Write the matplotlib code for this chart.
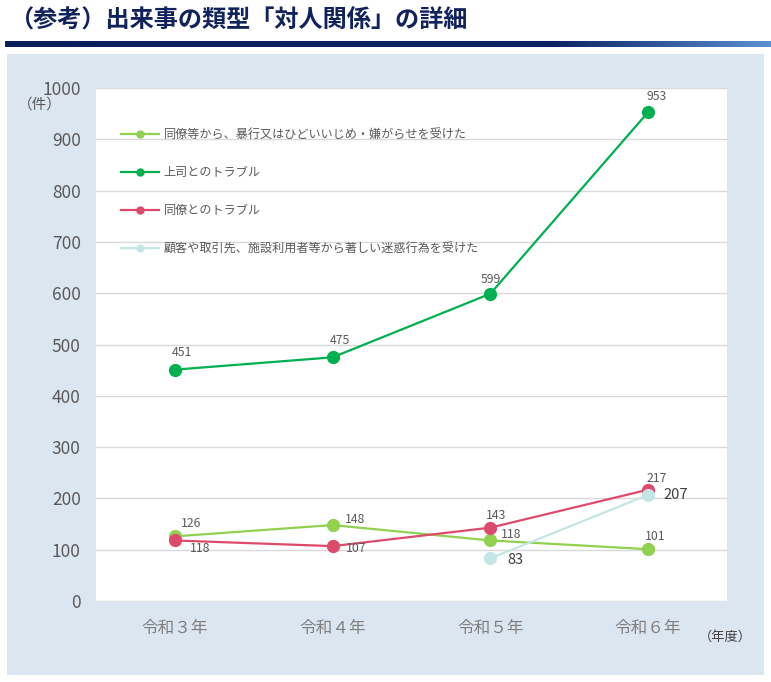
import numpy as np
import matplotlib
matplotlib.use("Agg")
import matplotlib.pyplot as plt
from matplotlib.lines import Line2D
from matplotlib.colors import LinearSegmentedColormap

plt.rcParams['font.family'] = ['Noto Sans CJK JP', 'DejaVu Sans']

# data
years = ['令和３年', '令和４年', '令和５年', '令和６年']
bullying = [126, 148, 118, 101]
boss = [451, 475, 599, 953]
colleague = [118, 107, 143, 217]
customer = [None, None, 83, 207]

names = ['同僚等から、暴行又はひどいいじめ・嫌がらせを受けた',
         '上司とのトラブル',
         '同僚とのトラブル',
         '顧客や取引先、施設利用者等から著しい迷惑行為を受けた']
colors = ['#92d050', '#00b050', '#dc4a6c', '#c4e6e6']

W, H = 771, 682
fig = plt.figure(figsize=(W / 100, H / 100), dpi=100)
fig.patch.set_facecolor('white')


def fx(px):
    return px / W


def fy(py):
    return 1 - py / H


# light blue panel (background axes)
panel = fig.add_axes([fx(7), fy(675), fx(764 - 7), (675 - 54) / H], zorder=-1)
panel.set_facecolor('#dce6f0')
panel.set_xticks([])
panel.set_yticks([])
for s in panel.spines.values():
    s.set_visible(False)

# title
fig.text(fx(10), fy(21), '（参考）出来事の類型「対人関係」の詳細', fontsize=17.4,
         fontweight='bold', color='#11225c', va='center', ha='left')

# navy bar with gradient on the right
bar_ax = fig.add_axes([fx(5), fy(47), fx(766), (47 - 41) / H])
cmap = LinearSegmentedColormap.from_list('bar', [(0, '#0a1e5a'), (0.72, '#0c2463'), (1, '#5b8fd2')])
bar_ax.imshow(np.linspace(0, 1, 400).reshape(1, -1), aspect='auto', cmap=cmap, extent=[0, 1, 0, 1])
bar_ax.axis('off')

ax = fig.add_axes([fx(96), fy(601), fx(727 - 96), (601 - 88) / H])
ax.set_facecolor('white')
x = np.arange(len(years))

series = [bullying, boss, colleague, customer]
for vals, c in zip(series, colors):
    xs = [i for i, v in enumerate(vals) if v is not None]
    ys = [v for v in vals if v is not None]
    ax.plot(xs, ys, color=c, lw=1.6, marker='o', markersize=8.5, zorder=3)

# data labels (offsets in points)
lab_kw = dict(textcoords='offset points', fontsize=8.8, color='#595959', ha='center', va='center')
off_boss = [(5, 12), (5, 12), (0, 10), (6, 11)]
off_bull = [(12, 9), (16, 4), (15, 4), (5, 9)]
off_coll = [(18, -6), (17, -2), (4, 9), (6, 8)]
for i, v in enumerate(boss):
    ax.annotate(str(v), (i, v), xytext=off_boss[i], **lab_kw)
for i, v in enumerate(bullying):
    ax.annotate(str(v), (i, v), xytext=off_bull[i], **lab_kw)
for i, v in enumerate(colleague):
    ax.annotate(str(v), (i, v), xytext=off_coll[i], **lab_kw)
off_cust = {2: (18, -1), 3: (20, 0)}
for i, v in enumerate(customer):
    if v is not None:
        ax.annotate(str(v), (i, v), xytext=off_cust[i], textcoords='offset points',
                    fontsize=10.5, color='#404040', ha='center', va='center')

ax.set_xlim(-0.5, 3.5)
ax.set_ylim(0, 1000)
ax.set_yticks(range(0, 1001, 100))
ax.set_xticks(x)
ax.set_xticklabels(years, fontsize=12, color='#7f7f7f')
ax.tick_params(axis='y', length=0, pad=11, labelsize=12.5, labelcolor='#595959')
ax.tick_params(axis='x', length=0, pad=14)
ax.grid(axis='y', color='#d9d9d9', lw=1)
ax.set_axisbelow(True)
for s in ax.spines.values():
    s.set_visible(False)

handles = [Line2D([0], [0], color=c, lw=1.6, marker='o', markersize=5) for c in colors]
leg = ax.legend(handles, names, loc='upper left', bbox_to_anchor=(0.04, 0.922), frameon=False,
                fontsize=8.7, labelcolor='#595959', handlelength=3.1, handletextpad=0.4,
                labelspacing=2.08, borderaxespad=0, borderpad=0)

fig.text(fx(18), fy(105), '（件）', fontsize=10.5, color='#595959', ha='left', va='center')
fig.text(fx(725), fy(637), '（年度）', fontsize=9.5, color='#404040', ha='center', va='center')

fig.savefig('out.png', dpi=100, facecolor='white')
